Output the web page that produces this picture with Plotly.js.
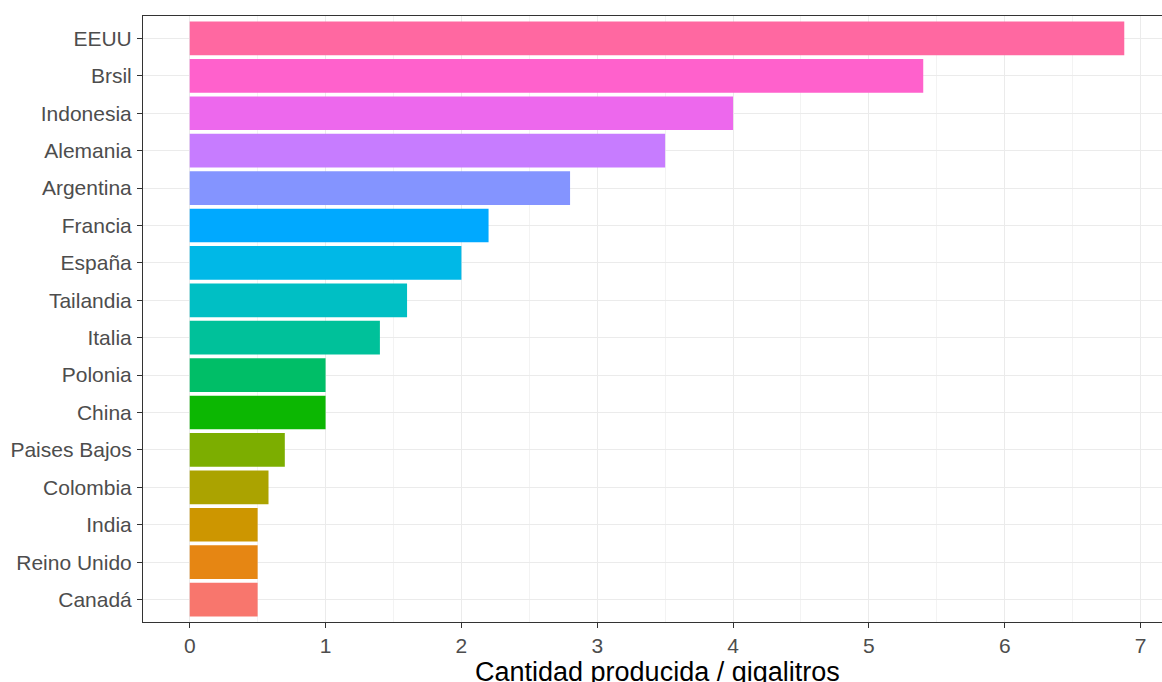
<!DOCTYPE html>
<html>
<head>
<meta charset="utf-8">
<script src="https://cdn.plot.ly/plotly-3.0.1.min.js"></script>
<style>
html, body { margin: 0; padding: 0; overflow: hidden; background: #fff; }
#chart { width: 1172px; height: 682px; }
</style>
</head>
<body>
<div id="chart"></div>
<script>
// Categories from bottom to top
const countries = ["Canadá", "Reino Unido", "India", "Colombia", "Paises Bajos", "China", "Polonia", "Italia", "Tailandia", "España", "Francia", "Argentina", "Alemania", "Indonesia", "Brsil", "EEUU"];
const production = [0.5, 0.5, 0.5, 0.58, 0.7, 1.0, 1.0, 1.4, 1.6, 2.0, 2.2, 2.8, 3.5, 4.0, 5.4, 6.88];
const barColors = ["#F8766D", "#E68613", "#CD9600", "#ABA300", "#7CAE00", "#0CB702", "#00BE67", "#00C19A", "#00BFC4", "#00B8E7", "#00A9FF", "#8494FF", "#C77CFF", "#ED68ED", "#FF61CC", "#FF68A1"];
const xTicks = [0, 1, 2, 3, 4, 5, 6, 7];
const xTitle = "Cantidad producida / gigalitros";

const trace = {
  type: "bar",
  orientation: "h",
  x: production,
  y: countries,
  width: 0.9,
  marker: { color: barColors, line: { width: 0 } },
  hoverinfo: "none"
};

const maxV = Math.max(...production);
const pad = maxV * 0.05;

const layout = {
  width: 1172,
  height: 682,
  margin: { l: 143, r: 1, t: 16, b: 60, pad: 0 },
  paper_bgcolor: "#ffffff",
  plot_bgcolor: "#ffffff",
  showlegend: false,
  font: { family: "Liberation Sans, Arial, sans-serif", color: "#4D4D4D" },
  xaxis: {
    range: [-pad, maxV + pad],
    tickmode: "array",
    tickvals: xTicks,
    ticktext: xTicks.map(String),
    ticks: "outside",
    ticklen: 5,
    tickwidth: 1,
    tickcolor: "#333333",
    tickfont: { size: 21, color: "#4D4D4D" },
    showgrid: true,
    gridcolor: "#EBEBEB",
    gridwidth: 1,
    minor: { dtick: 0.5, tick0: 0, showgrid: true, gridcolor: "#F3F3F3", gridwidth: 1, ticks: "" },
    showline: true,
    linecolor: "#333333",
    linewidth: 1,
    mirror: true,
    zeroline: false,
    automargin: false
  },
  yaxis: {
    type: "category",
    categoryorder: "array",
    categoryarray: countries,
    range: [-0.6, countries.length - 0.4],
    ticks: "outside",
    ticklen: 5,
    tickwidth: 1,
    tickcolor: "#333333",
    tickfont: { size: 21, color: "#4D4D4D" },
    showgrid: true,
    gridcolor: "#EBEBEB",
    gridwidth: 1,
    showline: true,
    linecolor: "#333333",
    linewidth: 1,
    mirror: false,
    zeroline: false,
    ticklabelstandoff: 1
  },
  annotations: [{
    text: xTitle,
    xref: "paper", yref: "paper",
    x: 0.5, y: -0.083,
    xanchor: "center", yanchor: "middle",
    showarrow: false,
    font: { size: 27, color: "#000000" }
  }],
  bargap: 0.1,
  hovermode: false
};

Plotly.newPlot("chart", [trace], layout, { displayModeBar: false, staticPlot: true });
</script>
</body>
</html>
